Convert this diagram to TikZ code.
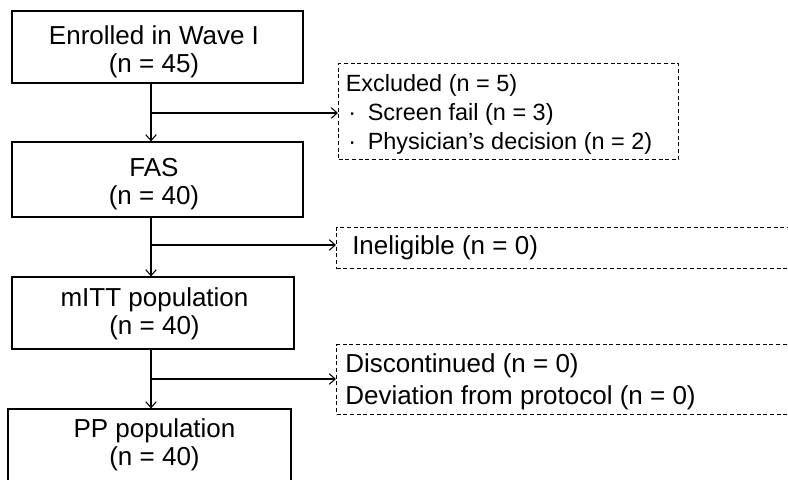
\documentclass[tikz,border=0pt]{standalone}
\usepackage{fontspec}
\setmainfont{Liberation Sans}
\usetikzlibrary{arrows.meta}
\begin{document}
\begin{tikzpicture}[x=0.75pt,y=-0.75pt,
  box/.style={draw, line width=0.9pt, inner sep=0pt},
  btext/.style={align=center, inner sep=0pt, font=\fontsize{19.5pt}{21pt}\selectfont},
  dbox/.style={draw, line width=0.8pt, dash pattern=on 3pt off 2pt, anchor=north west, inner sep=0pt},
  dtext/.style={anchor=west, align=left, inner sep=0pt},
  arr/.style={line width=0.8pt, -{Straight Barb[length=4.5pt,width=8pt]}}]
\clip (0,0) rectangle (788,479);
\fill[white] (0,0) rectangle (788,479);
% main boxes
\node[box, minimum width=291*0.75pt, minimum height=72*0.75pt] (b1) at (157.5,47) {};
\node[box, minimum width=291*0.75pt, minimum height=75*0.75pt] (b2) at (157.5,179.5) {};
\node[box, minimum width=282*0.75pt, minimum height=72*0.75pt] (b3) at (153,313) {};
\node[box, minimum width=283*0.75pt, minimum height=76*0.75pt] (b4) at (149.5,447) {};
\node[btext] (t1) at (154,51.5) {Enrolled in Wave I\\(n = 45)};
\node[btext] (t2) at (154,184.5) {FAS\\(n = 40)};
\node[btext] (t3) at (154.5,314) {mITT population\\(n = 40)};
\node[btext] (t4) at (154.5,445) {PP population\\(n = 40)};
% side boxes
\node[dbox, minimum width=340*0.75pt, minimum height=96*0.75pt] (ex) at (338,63) {};
\node[dbox, minimum width=500*0.75pt, minimum height=41*0.75pt] (in) at (336,227) {};
\node[dbox, minimum width=500*0.75pt, minimum height=70*0.75pt] (dc) at (336,344) {};
\node[dtext, font=\fontsize{17.6pt}{21.75pt}\selectfont] (ext) at (345.5,114)
  {Excluded (n = 5)\\\makebox[16.5pt][l]{\hspace{2pt}·}Screen fail (n = 3)\\\makebox[16.5pt][l]{\hspace{2pt}·}Physician’s decision (n = 2)};
\node[dtext, font=\fontsize{19.5pt}{24pt}\selectfont] (int) at (352,247.5)
  {Ineligible (n = 0)};
\node[dtext, font=\fontsize{19.5pt}{24pt}\selectfont] (dct) at (345,381.5)
  {Discontinued (n = 0)\\Deviation from protocol (n = 0)};
% junctions
\coordinate (j1) at (151,113);
\coordinate (j2) at (151,245);
\coordinate (j3) at (151,379);
% connectors
\draw[arr] (b1.south -| j1) -- (b2.north -| j1);
\draw[arr] (j1) -- (ex.west |- j1);
\draw[arr] (b2.south -| j2) -- (b3.north -| j2);
\draw[arr] (j2) -- (in.west |- j2);
\draw[arr] (b3.south -| j3) -- (b4.north -| j3);
\draw[arr] (j3) -- (dc.west |- j3);
\end{tikzpicture}
\end{document}
